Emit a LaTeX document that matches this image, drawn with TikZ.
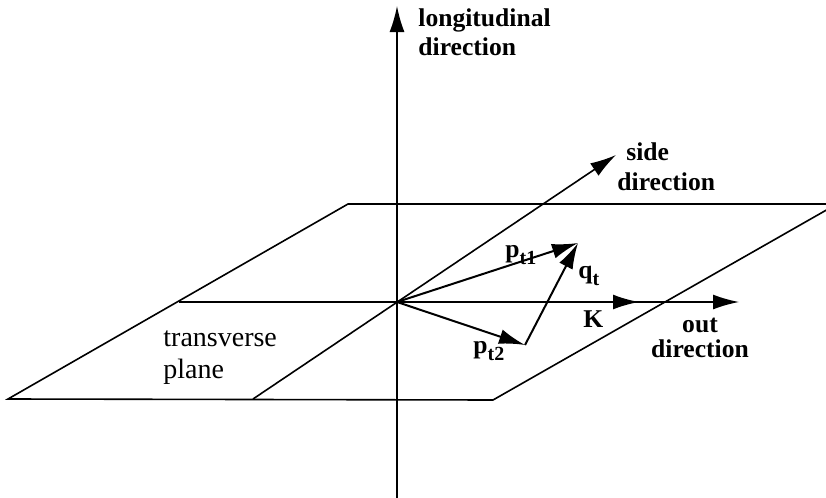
\documentclass[tikz,border=0pt]{standalone}
\usepackage{fontspec}
\setmainfont{Liberation Serif}
\usetikzlibrary{arrows.meta}
\begin{document}
\begin{tikzpicture}[
        x=0.5pt, y=-0.5pt,
        every node/.style={font=\bfseries\fontsize{12.8}{14.5}\selectfont,
            inner sep=0pt},
        plane/.style={draw, line width=0.8pt},
        axis/.style={-{Latex[length=13pt, width=7.5pt]}, line width=0.8pt},
        vec/.style={-{Latex[length=13pt, width=7.5pt]}, line width=1pt},
        planelabel/.style={font=\fontsize{14}{16}\selectfont, align=left},
        subtext/.style={font=\bfseries\fontsize{10}{10}\selectfont}
      ]
      \useasboundingbox (0,0) rectangle (826,498);
      \clip (0,0) rectangle (826,498);
      \coordinate (bl) at (8,399);
      \coordinate (tl) at (348,204);
      \coordinate (tr) at (837,204);
      \coordinate (br) at (493,400);
      \coordinate (O)  at (397,302);
      \coordinate (ml) at (179,302);
      \coordinate (db) at (253,399);
      \coordinate (vb) at (397,500);
      \coordinate (vt) at (397,6);
      \coordinate (side) at (616,155);
      \coordinate (out) at (739,302);
      \coordinate (K)  at (639,302);
      \coordinate (p1) at (578,243);
      \coordinate (p2) at (525,345);
      \draw[plane] (bl) -- (tl) -- (tr) -- (br) -- cycle;
      \draw[axis] (ml) -- (out);
      \draw[axis] (db) -- (side);
      \draw[axis] (vb) -- (vt);
      \draw[vec] (O) -- (K);
      \draw[vec] (O) -- (p1);
      \draw[vec] (O) -- (p2);
      \draw[vec] (p2) -- (p1);
      \node[anchor=base west, align=left] (longlab) at (418,55)
      {longitudinal\\direction};
      \node[anchor=base west, align=left,
          font=\bfseries\fontsize{12.8}{15}\selectfont] (sidelab) at (617,190)
      {\hspace{4.5pt}side\\direction};
      \node[anchor=base, align=center,
          font=\bfseries\fontsize{12.8}{12.5}\selectfont] (outlab) at (700,357)
      {out\\direction};
      \node[planelabel, anchor=base west] (translab) at (163,378)
      {transverse\\plane};
      \node[anchor=base west] (p1lab) at (505,257)
      {p\raisebox{-3.5pt}{\fontsize{10}{10}\selectfont t1}};
      \node[anchor=base west] (p2lab) at (473,353)
      {p\raisebox{-3.5pt}{\fontsize{10}{10}\selectfont t2}};
      \node[anchor=base west] (qlab) at (578,278)
      {q\raisebox{-3.5pt}{\fontsize{10}{10}\selectfont t}};
      \node[anchor=base west] (Klab) at (583,327) {K};
    \end{tikzpicture}
\end{document}
